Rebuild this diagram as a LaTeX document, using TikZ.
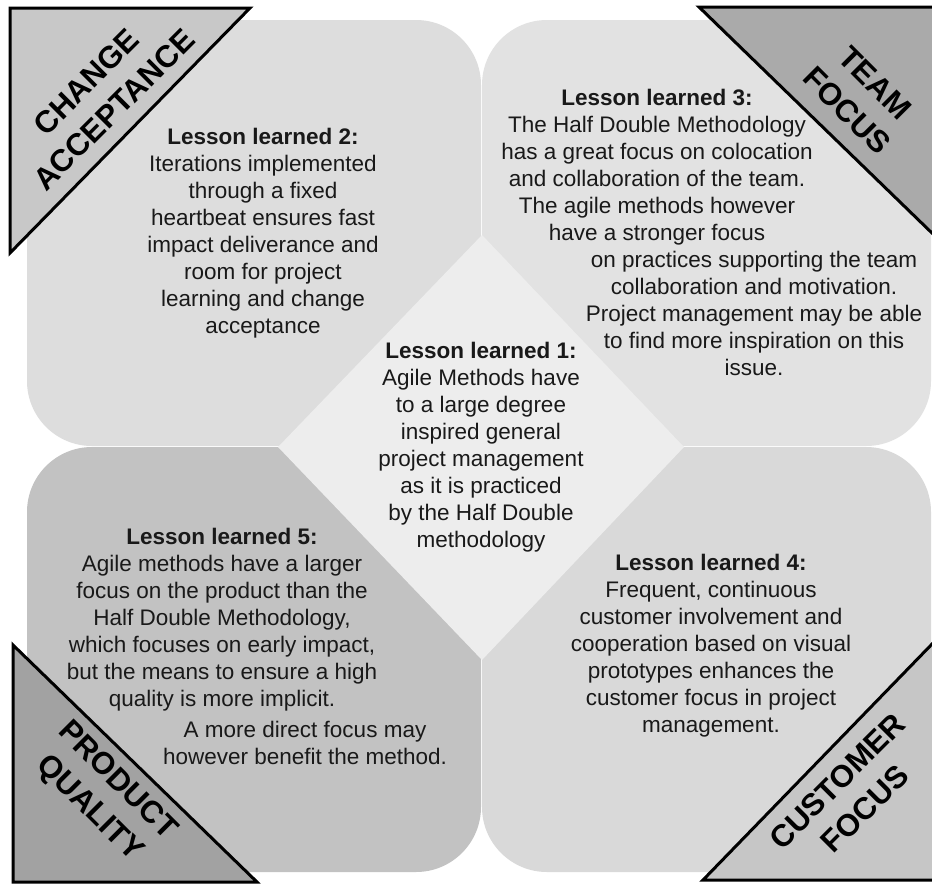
\documentclass[tikz,border=0pt]{standalone}
\usepackage{fontspec}
\setmainfont{Liberation Sans}
\begin{document}
\begin{tikzpicture}[x=1pt,y=-1pt,
  quad/.style={rounded corners=65pt, draw=none},
  corner/.style={draw=black, line width=3pt, line join=miter},
  cornerlabel/.style={font=\fontsize{31}{39}\selectfont\bfseries, align=center, inner sep=0pt},
  lesson/.style={font=\fontsize{22.5}{27}\selectfont, align=center, inner sep=0pt, text=black!90}
]
\definecolor{qTL}{gray}{0.865}
\definecolor{qTR}{gray}{0.885}
\definecolor{qBL}{gray}{0.76}
\definecolor{qBR}{gray}{0.85}
\definecolor{qMid}{gray}{0.93}
\definecolor{tTL}{gray}{0.785}
\definecolor{tTR}{gray}{0.665}
\definecolor{tBL}{gray}{0.635}
\definecolor{tBR}{gray}{0.775}

\useasboundingbox (0,0) rectangle (932,884);
\fill[white] (0,0) rectangle (932,884);

% four rounded quadrants
\fill[qTL, quad] (27,20) rectangle (481,446);
\fill[qTR, quad] (482,20) rectangle (931,446);
\fill[qBL, quad] (27,447) rectangle (481,872);
\fill[qBR, quad] (482,447) rectangle (931,872);

% central diamond
\fill[qMid] (482,235) -- (684,447) -- (482,660) -- (278,447) -- cycle;

% corner triangles
\draw[corner, fill=tTL] (10,8) -- (250,8) -- (10,253) -- cycle;
\draw[corner, fill=tTR] (699,7) -- (934,7) -- (934,235) -- cycle;
\draw[corner, fill=tBL] (13,645) -- (257,882) -- (13,882) -- cycle;
\draw[corner, fill=tBR] (934,642) -- (934,880) -- (703,880) -- cycle;

% corner labels
\node[cornerlabel, rotate=45] (ca) at (100,96) {CHANGE\\ACCEPTANCE};
\node[cornerlabel, rotate=-45] (tf) at (861,97) {TEAM\\FOCUS};
\node[cornerlabel, rotate=-45] (pq) at (103,795) {PRODUCT\\QUALITY};
\node[cornerlabel, rotate=45] (cf) at (851,795) {CUSTOMER\\FOCUS};

% lessons
\node[lesson] (l1) at (481,447) {\textbf{Lesson learned 1:}\\Agile Methods have\\to a large degree\\inspired general\\project management\\as it is practiced\\by the Half Double\\methodology};
\node[lesson] (l2) at (263,233) {\textbf{Lesson learned 2:}\\Iterations implemented\\through a fixed\\heartbeat ensures fast\\impact deliverance and\\room for project\\learning and change\\acceptance};
\node[lesson] (l3a) at (657,167.5) {\textbf{Lesson learned 3:}\\The Half Double Methodology\\has a great focus on colocation\\and collaboration of the team.\\The agile methods however\\have a stronger focus};
\node[lesson] (l3b) at (754,313.5) {on practices supporting the team\\collaboration and motivation.\\Project management may be able\\to find more inspiration on this\\issue.};
\node[lesson] (l4) at (711,645.5) {\textbf{Lesson learned 4:}\\Frequent, continuous\\customer involvement and\\cooperation based on visual\\prototypes enhances the\\customer focus in project\\management.};
\node[lesson] (l5a) at (222,620) {\textbf{Lesson learned 5:}\\Agile methods have a larger\\focus on the product than the\\Half Double Methodology,\\which focuses on early impact,\\but the means to ensure a high\\quality is more implicit.};
\node[lesson] (l5b) at (305,743) {A more direct focus may\\however benefit the method.};
\end{tikzpicture}
\end{document}
